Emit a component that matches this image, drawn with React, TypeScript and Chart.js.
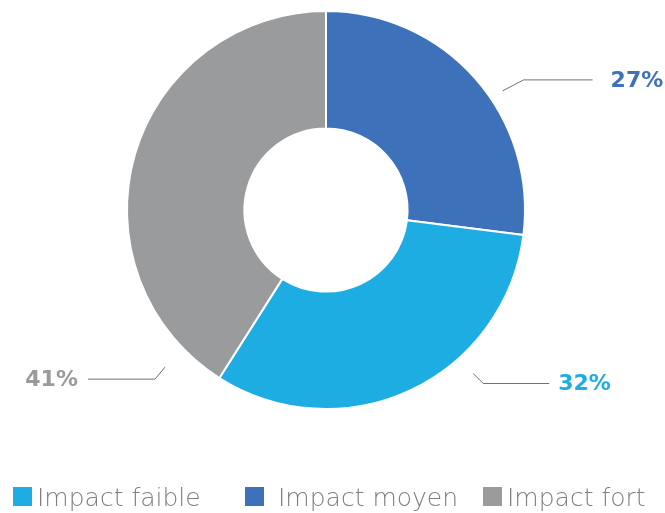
import { useEffect, useRef } from "react";
import Chart from "chart.js/auto";

// Répartition des impacts (en %)
const categories = ["Impact moyen", "Impact faible", "Impact fort"];
const shares = [27, 32, 41];
const sliceColors = ["#3D72BA", "#1EADE3", "#999B9C"];
const valueLabelColors = ["#3D72BA", "#1EADE3", "#9A9A9A"];
const legendOrder = ["Impact faible", "Impact moyen", "Impact fort"];

// Callout geometry per slice: anchor angle (deg), gap beyond the ring,
// elbow offset, horizontal run, text gap, side (1 = right, -1 = left)
const callouts = [
  { angle: -34, gap: 14, elbowX: 21, elbowY: -11, run: 69, textGap: 18, side: 1 },
  { angle: 48, gap: 21, elbowX: 10, elbowY: 10, run: 66, textGap: 9, side: 1 },
  { angle: 135.7, gap: 26, elbowX: -10, elbowY: 12, run: 67, textGap: 10, side: -1 },
];

const calloutPlugin = {
  id: "valueCallouts",
  afterDatasetsDraw(chart: any) {
    const { ctx } = chart;
    const meta = chart.getDatasetMeta(0);
    const values = chart.data.datasets[0].data as number[];
    meta.data.forEach((arc: any, i: number) => {
      const c = callouts[i];
      if (!c) return;
      const { x, y, outerRadius } = arc.getProps(["x", "y", "outerRadius"], true);
      const a = (c.angle * Math.PI) / 180;
      const r = outerRadius + c.gap;
      const sx = x + r * Math.cos(a);
      const sy = y + r * Math.sin(a);
      const ex = sx + c.elbowX;
      const ey = sy + c.elbowY;
      const hx = ex + c.side * c.run;
      ctx.save();
      ctx.strokeStyle = "#707070";
      ctx.lineWidth = 1;
      ctx.beginPath();
      ctx.moveTo(sx, sy);
      ctx.lineTo(ex, ey);
      ctx.lineTo(hx, ey);
      ctx.stroke();
      ctx.fillStyle = valueLabelColors[i];
      ctx.font = "bold 22px 'DejaVu Sans'";
      ctx.textBaseline = "middle";
      ctx.textAlign = c.side > 0 ? "left" : "right";
      ctx.fillText(`${values[i]}%`, hx + c.side * c.textGap, ey + 1);
      ctx.restore();
    });
  },
};

// Legend row under the ring: swatch left edge and swatch-to-text gap per entry
const legendSlots = [
  { boxX: 13, textGap: 5 },
  { boxX: 245, textGap: 14 },
  { boxX: 483, textGap: 5 },
];

const bottomLegendPlugin = {
  id: "bottomLegend",
  afterDraw(chart: any) {
    const { ctx } = chart;
    const labels = chart.data.labels as string[];
    const colors = chart.data.datasets[0].backgroundColor as string[];
    const boxSize = 19;
    const boxTop = 487;
    ctx.save();
    ctx.font = "200 25px 'DejaVu Sans'";
    ctx.textBaseline = "alphabetic";
    ctx.textAlign = "left";
    legendOrder.forEach((name, k) => {
      const idx = labels.indexOf(name);
      const slot = legendSlots[k];
      ctx.fillStyle = colors[idx];
      ctx.fillRect(slot.boxX, boxTop, boxSize, boxSize);
      ctx.fillStyle = "#7F7F7F";
      ctx.fillText(name, slot.boxX + boxSize + slot.textGap, boxTop + boxSize);
    });
    ctx.restore();
  },
};

export default function App() {
  const canvasRef = useRef<HTMLCanvasElement | null>(null);

  useEffect(() => {
    if (!canvasRef.current) return;
    const chart = new Chart(canvasRef.current, {
      type: "doughnut",
      data: {
        labels: categories,
        datasets: [
          {
            data: shares,
            backgroundColor: sliceColors,
            borderColor: "#ffffff",
            borderWidth: 2,
          },
        ],
      },
      options: {
        animation: false,
        responsive: false,
        cutout: "41%",
        layout: { padding: { top: 10, bottom: 103, left: 0, right: 13 } },
        plugins: {
          tooltip: { enabled: false },
          legend: { display: false },
        },
      },
      plugins: [calloutPlugin, bottomLegendPlugin],
    });
    return () => chart.destroy();
  }, []);

  return (
    <div style={{ position: "fixed", left: 0, top: 0, width: 665, height: 513, background: "#fff" }}>
      <canvas ref={canvasRef} width={665} height={513} />
    </div>
  );
}
